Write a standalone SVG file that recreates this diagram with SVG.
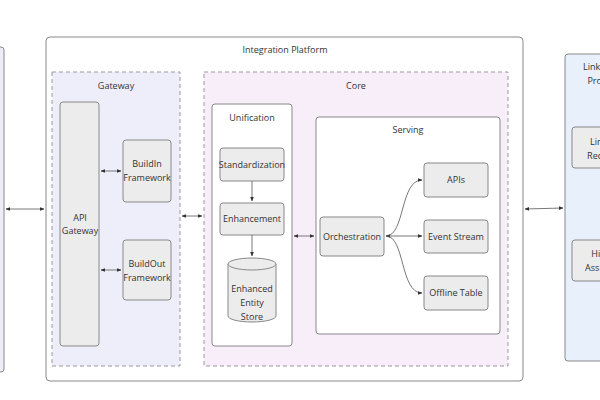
<svg xmlns="http://www.w3.org/2000/svg" width="600" height="400" viewBox="0 0 600 400">
<style>
text{font-family:"Open Sans","Liberation Sans",sans-serif;font-size:9px;fill:#333;text-anchor:middle}
.n{fill:#ececec;stroke:#888;stroke-width:1}
.c{fill:none;stroke:#555;stroke-width:0.8}
</style>
<defs>
<marker id="a" viewBox="0 0 10 10" refX="9" refY="5" markerWidth="6" markerHeight="6" orient="auto-start-reverse"><path d="M0,1 L10,5 L0,9z" fill="#333"/></marker>
</defs>
<rect width="600" height="400" fill="#fff"/>
<g id="left"><rect x="-60" y="47" width="64" height="325" rx="3" fill="#ededf7" stroke="#888"/></g>
<g id="platform"><rect x="46" y="37" width="477" height="344" rx="4" fill="#fff" stroke="#888"/><text x="285" y="53">Integration Platform</text></g>
<g id="gateway"><rect x="52" y="72" width="128" height="294" fill="#eeeefa" stroke="#999" stroke-dasharray="4 3"/><text x="116" y="89">Gateway</text></g>
<g id="apigw"><rect class="n" x="60" y="102" width="39" height="244" rx="3"/><text x="80" y="221">API</text><text x="80" y="234">Gateway</text></g>
<g id="buildin"><rect class="n" x="123" y="140" width="48" height="62" rx="3"/><text x="147" y="167">BuildIn</text><text x="147" y="181">Framework</text></g>
<g id="buildout"><rect class="n" x="123" y="240" width="48" height="60" rx="3"/><text x="147" y="267">BuildOut</text><text x="147" y="281">Framework</text></g>
<g id="core"><rect x="204" y="72" width="304" height="294" fill="#f8eefa" stroke="#999" stroke-dasharray="4 3"/><text x="356" y="89">Core</text></g>
<g id="unification"><rect x="212" y="104" width="80" height="242" rx="3" fill="#fff" stroke="#888"/><text x="252" y="121">Unification</text></g>
<g id="std"><rect class="n" x="220" y="148" width="64" height="33" rx="3"/><text x="252" y="168">Standardization</text></g>
<g id="enh"><rect class="n" x="220" y="203" width="64" height="32" rx="3"/><text x="252" y="222">Enhancement</text></g>
<g id="store"><path d="M228,264 v52 a24,6 0 0 0 48,0 v-52" fill="#ececec" stroke="#888"/><ellipse cx="252" cy="264" rx="24" ry="6" fill="#ececec" stroke="#888"/><text x="252" y="292">Enhanced</text><text x="252" y="306">Entity</text><text x="252" y="320">Store</text></g>
<g id="serving"><rect x="316" y="117" width="184" height="217" rx="3" fill="#fff" stroke="#888"/><text x="408" y="133">Serving</text></g>
<g id="orch"><rect class="n" x="320" y="217" width="64" height="39" rx="3"/><text x="352" y="240">Orchestration</text></g>
<g id="apis"><rect class="n" x="424" y="163" width="64" height="34" rx="3"/><text x="456" y="183">APIs</text></g>
<g id="event"><rect class="n" x="424" y="220" width="64" height="33" rx="3"/><text x="456" y="240">Event Stream</text></g>
<g id="offline"><rect class="n" x="424" y="276" width="64" height="34" rx="3"/><text x="456" y="296">Offline Table</text></g>
<g id="right"><rect x="565" y="54" width="70" height="307" rx="3" fill="#e8f0fc" stroke="#888"/><text x="601" y="70">LinkedIn</text><text x="601" y="84">Profile</text>
<rect class="n" x="572" y="127" width="60" height="41" rx="3"/><text x="604" y="145">Linked</text><text x="604" y="159">Records</text>
<rect class="n" x="572" y="240" width="60" height="41" rx="3"/><text x="604" y="257">Hiring</text><text x="604" y="271">Assistant</text></g>
<g id="connectors">
<path class="c" d="M6,209 H44" marker-start="url(#a)" marker-end="url(#a)"/>
<path class="c" d="M101,171 H121" marker-start="url(#a)" marker-end="url(#a)"/>
<path class="c" d="M101,270 H121" marker-start="url(#a)" marker-end="url(#a)"/>
<path class="c" d="M182,216 H202" marker-start="url(#a)" marker-end="url(#a)"/>
<path class="c" d="M252,181 V201" marker-end="url(#a)"/>
<path class="c" d="M252,235 V256" marker-end="url(#a)"/>
<path class="c" d="M294,236 H314" marker-start="url(#a)" marker-end="url(#a)"/>
<path class="c" d="M386,236 C405,236 400,180 422,180" marker-start="url(#a)" marker-end="url(#a)"/>
<path class="c" d="M386,236 H422" marker-end="url(#a)"/>
<path class="c" d="M386,236 C405,236 400,293 422,293" marker-end="url(#a)"/>
<path class="c" d="M525,209 L563,208" marker-start="url(#a)" marker-end="url(#a)"/>
</g>
</svg>
